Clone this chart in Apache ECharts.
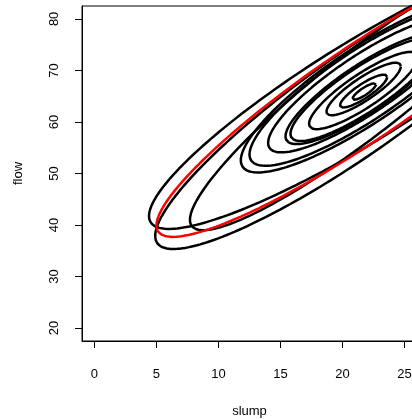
<!DOCTYPE html>
<html>
<head>
<meta charset="utf-8">
<script src="https://cdn.jsdelivr.net/npm/echarts@6/dist/echarts.min.js"></script>
<style>
html,body{margin:0;padding:0;background:#fff;}
#chart{width:412px;height:419px;}
</style>
</head>
<body>
<div id="chart"></div>
<script>
// Ellipse parameters (data units): centre, x-half-extent (k*sx), y-half-extent (k*sy), correlation
var ellCx  = [21.75, 21.7, 21.7, 21.7, 21.7, 21.7, 21.7, 21.7, 21.7, 21.6, 21.5, 21.2, 21.5];
var ellCy  = [65.9, 66.0, 66.4, 66.1, 66.3, 66.4, 67.2, 67.1, 67.0, 65.5, 65.85, 63.8, 65.4];
var ellA   = [0.95, 1.9, 3.0, 4.4, 5.9, 6.3, 7.7, 9.2, 9.9, 13.9, 17.1, 16.3, 16.5];
var ellB   = [1.6, 3.2, 5.1, 7.5, 10.0, 10.7, 13.1, 15.6, 16.8, 26.5, 26.6, 28.45, 27.7];
var ellRho = [0.86, 0.86, 0.86, 0.86, 0.86, 0.86, 0.86, 0.86, 0.86, 0.924, 0.906, 0.91, 0.92];
var ellCol = ['#000','#000','#000','#000','#000','#000','#000','#000','#000','#000','#000','#000','#ff0000'];

var xTicks = [0, 5, 10, 15, 20, 25];
var yTicks = [20, 30, 40, 50, 60, 70, 80];
var xMin = -1, xMax = 26, yMin = 17.5, yMax = 82.5;

function ellipsePoints(i) {
  var pts = [], n = 240, s = Math.sqrt(1 - ellRho[i] * ellRho[i]);
  for (var j = 0; j <= n; j++) {
    var t = 2 * Math.PI * j / n;
    pts.push([ellCx[i] + ellA[i] * Math.cos(t),
              ellCy[i] + ellB[i] * (ellRho[i] * Math.cos(t) + s * Math.sin(t))]);
  }
  return pts;
}

var series = [];
for (var i = 0; i < ellCx.length; i++) {
  series.push({
    type: 'line', data: ellipsePoints(i), showSymbol: false, symbol: 'none',
    smooth: false, clip: true, silent: true, animation: false,
    lineStyle: {color: ellCol[i], width: 2.5}
  });
}

var font = 'Liberation Sans, Arial, Helvetica, sans-serif';
var chart = echarts.init(document.getElementById('chart'), null, {renderer: 'canvas'});
chart.setOption({
  animation: false,
  backgroundColor: '#fff',
  grid: {left: 82, top: 6, width: 335, height: 335, outerBoundsMode: 'none', containLabel: false,
         show: true, borderColor: '#000', borderWidth: 1, backgroundColor: 'transparent'},
  xAxis: {
    type: 'value', min: xMin, max: xMax, position: 'bottom',
    name: 'slump', nameLocation: 'middle', nameGap: 64,
    nameTextStyle: {fontFamily: font, fontSize: 13, color: '#000'},
    axisLine: {show: true, onZero: false, lineStyle: {color: '#000', width: 1}},
    splitLine: {show: false},
    axisTick: {show: true, length: 7, customValues: xTicks, lineStyle: {color: '#000', width: 1}},
    axisLabel: {customValues: xTicks, margin: 27, fontFamily: font, fontSize: 13, color: '#000'}
  },
  yAxis: {
    type: 'value', min: yMin, max: yMax, position: 'left',
    name: 'flow', nameLocation: 'middle', nameGap: 57,
    nameTextStyle: {fontFamily: font, fontSize: 13, color: '#000'},
    axisLine: {show: true, onZero: false, lineStyle: {color: '#000', width: 1}},
    splitLine: {show: false},
    axisTick: {show: true, length: 7, customValues: yTicks, lineStyle: {color: '#000', width: 1}},
    axisLabel: {customValues: yTicks, rotate: 90, margin: 21, fontFamily: font, fontSize: 13, color: '#000'}
  },
  series: series
});
</script>
</body>
</html>
